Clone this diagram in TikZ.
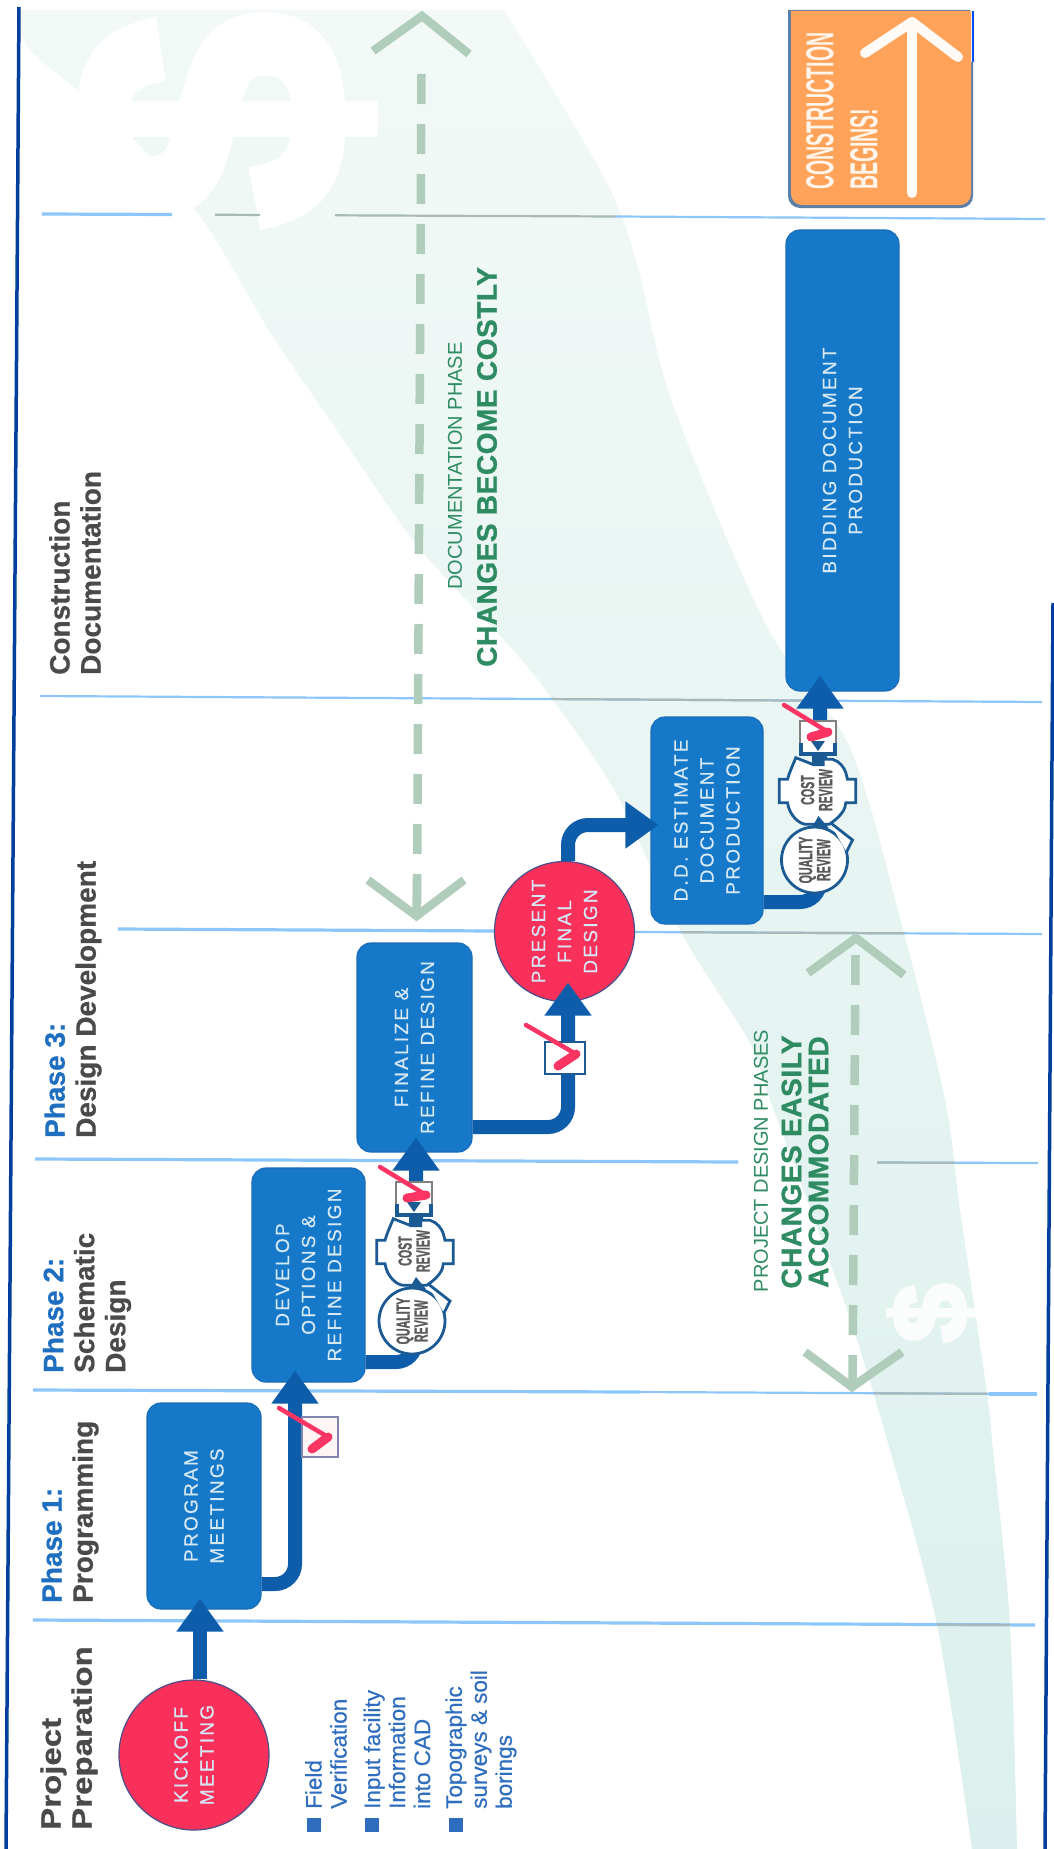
\documentclass[tikz,border=0pt]{standalone}
\usepackage{graphicx}
\usepackage{fontspec}
\setmainfont{Liberation Sans}
\newfontfamily\lsfont[LetterSpace=12,FakeBold=0.5]{Liberation Sans}
\newfontfamily\gfont[LetterSpace=2,BoldFeatures={FakeBold=1}]{Liberation Sans}
\newfontfamily\fatfont[BoldFeatures={FakeBold=4}]{Liberation Sans}
\newfontfamily\hdfont[BoldFeatures={FakeBold=0.6}]{Liberation Sans}
\newfontfamily\btfont[FakeBold=0.5]{Liberation Sans}
\newfontfamily\rvfont[BoldFeatures={FakeBold=1.2}]{Liberation Sans}
\usetikzlibrary{arrows.meta,calc}
\definecolor{navyline}{HTML}{003F9E}
\definecolor{seplight}{HTML}{8CC6FB}
\definecolor{sepgrey}{HTML}{A9B9B8}
\definecolor{boxblue}{HTML}{1578C8}
\definecolor{boxedge}{HTML}{1A6CB8}
\definecolor{boxtext}{HTML}{D5E8F6}
\definecolor{flowblue}{HTML}{0E5DAA}
\definecolor{redfill}{HTML}{F8305A}
\definecolor{rededge}{HTML}{4A4F8C}
\definecolor{checkred}{HTML}{FB3563}
\definecolor{revnavy}{HTML}{1C5A94}
\definecolor{revgrey}{HTML}{5A5A5A}
\definecolor{phaseblue}{HTML}{1E6FC0}
\definecolor{headgrey}{HTML}{4A4A4A}
\definecolor{bulletblue}{HTML}{2F6DBE}
\definecolor{labelgreen}{HTML}{2E8B62}
\definecolor{dashgreen}{HTML}{B0CDBB}
\definecolor{orangefill}{HTML}{FFA35A}
\definecolor{orangeedge}{HTML}{5C7FA8}
\definecolor{bandA}{HTML}{F2F9F6}
\definecolor{bandB}{HTML}{DCE9E6}
\definecolor{bandC}{HTML}{DBF0EE}
\newcommand\cnd[1]{\scalebox{.56}[1]{#1}}
\newcommand\ornd[1]{\scalebox{.5}[1]{#1}}
\newcommand\wdr[1]{\scalebox{1.18}[1]{#1}}
\newcommand\bandpath{plot[smooth,tension=.5] coordinates {(20,10)(30,50)(120,125)(202,219)(269,330)(336,429)(417,545)(513,650)(556,704)(616,793)(681,932)(750,1043)(770,1100)(847,1310)(890,1450)(937,1625)(972,1849)} -- plot[smooth,tension=.5] coordinates {(1017,1849)(1010,1625)(993,1450)(987,1393)(960,1210)(945,1100)(900,918)(849,746)(766,625)(672,402)(638,268)(605,179)(504,10)} -- cycle}
\newcommand\reviewpair[3]{%
  \begin{scope}[shift={(#2,#3)}]
    % quality badge
    \node[qualshape,rotate=90,align=center] (#1q) at (-3,70)
      {\cnd{QUALITY}\\\cnd{REVIEW}};
    \fill[white] (12,32) -- (35,50) -- (29,62) -- cycle;
    \draw[revnavy,line width=2.8pt,line join=miter] (12,32) -- (35,50) -- (29,62);
    % cost badge
    \fill[white,draw=revnavy,line width=2.8pt,line join=miter]
      (-21.7,-32.3) -- (-5,-25.7) -- (1.7,-30.7) -- (15,-30.7)
      .. controls (22,-29) and (27,-22) .. (28.3,-17.3) -- (30,-10.7) -- (38.3,-10.7)
      -- (38.3,12.7) -- (28.3,12.7) .. controls (28,19) and (24,26) .. (11.7,34.3)
      -- (-11.7,34.3) .. controls (-18,34) and (-28,26) .. (-30,12.7)
      -- (-38.3,12.7) -- (-38.3,-10.7) -- (-30,-10.7)
      .. controls (-28,-18) and (-25,-24) .. (-21.7,-32.3) -- cycle;
    \node[costtext] (#1c) at (-1,0) {\cnd{COST}\\\cnd{REVIEW}};
    % arrow shaft showing through the gaps
    \fill[revnavy] (-5,-24) -- (-6,-38) -- (7,-38) -- (7,-24) -- cycle;
    \fill[revnavy] (-6,38) -- (1,26) -- (11,38) -- cycle;
  \end{scope}}
\newcommand\chkmark[3]{%
  \draw[checkred,line width=4.5pt,line join=round,line cap=round] (#1) -- (#2);
  \draw[checkred,line width=9pt,line cap=round] (#2) -- (#3);}
\tikzset{
  procbox/.style={rotate=90,draw=boxedge,line width=1.2pt,fill=boxblue,rounded corners=14pt,
    text=boxtext,align=center,font=\lsfont\fontsize{19}{26}\selectfont,inner sep=0pt},
  redcirc/.style={rotate=90,circle,draw=rededge,line width=1.2pt,fill=redfill,
    text=boxtext,align=center,font=\lsfont\fontsize{19}{26}\selectfont,inner sep=0pt},
  flow/.style={flowblue,line width=14pt,rounded corners=20pt,
    -{Triangle[width=45pt,length=33pt]}},
  header/.style={rotate=90,anchor=west,align=left,inner sep=0pt,text=headgrey,
    font=\hdfont\fontsize{28}{31}\selectfont\bfseries},
  bullet/.style={rectangle,fill=bulletblue,minimum size=14pt,inner sep=0pt},
  bullettext/.style={rotate=90,anchor=west,align=left,inner sep=0pt,text=bulletblue,
    font=\btfont\fontsize{22.5}{25}\selectfont},
  smallgreen/.style={rotate=90,text=labelgreen,inner sep=0pt,font=\fontsize{20}{24}\selectfont},
  biggreen/.style={rotate=90,text=labelgreen,align=center,inner sep=0pt,
    font=\gfont\fontsize{28}{27}\selectfont\bfseries},
  dashes/.style={dashgreen,line width=8.5pt,dash pattern=on 30pt off 20pt},
  chev/.style={dashgreen,line width=8.5pt,line join=miter},
  sep/.style={seplight,line width=3.2pt},
  septhin/.style={seplight,line width=2.2pt},
  tickbox/.style={rectangle,fill=white,draw=#1,line width=1.2pt,inner sep=0pt},
  qualshape/.style={circle,fill=white,draw=revnavy,line width=2.8pt,minimum size=66pt,inner sep=0pt,
    text=revgrey,font=\rvfont\fontsize{19}{18}\selectfont\bfseries},
  costtext/.style={rotate=90,align=center,inner sep=0pt,text=revgrey,
    font=\rvfont\fontsize{19}{18}\selectfont\bfseries},
}
\begin{document}
\begin{tikzpicture}[x=1pt,y=-1pt]
\useasboundingbox (0,0) rectangle (1054,1849);
\fill[white] (0,0) rectangle (1054,1849);
\begin{scope}
\clip (0,0) rectangle (1054,1849);
% the cost band
\shade[top color=bandA,middle color=bandB,bottom color=bandC] \bandpath;
\node[rotate=90,text=white,inner sep=0pt,font=\fatfont\fontsize{380}{380}\selectfont\bfseries] (bigdollar) at (215,120) {\$};
\node[rotate=90,text=white!90!bandB,inner sep=0pt,font=\fatfont\fontsize{105}{105}\selectfont\bfseries] (smalldollar) at (931,1313) {\$};
\end{scope}
% separators
\draw[sep] (33,1620) -- (1035,1625);
\draw[sep] (33,1390) -- (640,1392);
\draw[septhin] (640,1392) -- (1037,1394);
\draw[sep] (989,1394) -- (1037,1394);
\draw[sep] (35,1159) -- (738,1162);
\draw[septhin] (877,1162.5) -- (1038,1163);
\draw[sep] (118,929) -- (495,931);
\draw[septhin] (634,932) -- (1042,934);
\draw[septhin] (40,696) -- (1042,702);
\draw[sep] (42,214) -- (172,214.5);
\draw[septhin] (615,216.5) -- (1045,219);
\begin{scope}
\clip \bandpath;
\draw[sepgrey,line width=2.2pt] (33,1620) -- (1035,1625);
\draw[sepgrey,line width=2.2pt] (33,1390) -- (1037,1394);
\draw[sepgrey,line width=2.2pt] (877,1162.5) -- (1038,1163);
\draw[sepgrey,line width=2.2pt] (634,932) -- (1042,934);
\draw[sepgrey,line width=2.2pt] (40,696) -- (1042,702);
\draw[sepgrey,line width=2.2pt] (215,214.7) -- (260,215);
\draw[sepgrey,line width=2.2pt] (335,215.3) -- (615,216.5);
\end{scope}
% margin rules
\draw[navyline,line width=3.5pt] (19,7) -- (6,1849);
\draw[navyline,line width=3.5pt] (1053,603) -- (1045,1849);
\draw[blue!70!cyan,line width=1.5pt] (973,11) -- (973,62);
% dashed double arrows
\coordinate (uptop) at (422,16);
\coordinate (upbot) at (416.5,916);
\coordinate (lowtop) at (856,938);
\coordinate (lowbot) at (852,1387);
\draw[dashes] (421.5,74) -- (417,904);
\draw[chev] (373,51) -- (uptop) -- (469,54);
\draw[chev] (368,880) -- (upbot) -- (464,880);
\draw[dashgreen,line width=8.5pt] (417,878) -- (upbot);
\draw[dashes] (855.5,955) -- (852.5,1385);
\draw[chev] (808,973) -- (lowtop) -- (904,975);
\draw[chev] (805,1352) -- (lowbot) -- (902,1352);
% headers
\node[header] (hprep) at (69,1830) {\wdr{Project}\\\wdr{Preparation}};
\node[header] (hone) at (70,1603) {{\color{phaseblue}Phase 1:}\\Programming};
\node[header] (htwo) at (87,1373) {{\color{phaseblue}Phase 2:}\\Schematic\\Design};
\node[header] (hthree) at (73,1138) {{\color{phaseblue}Phase 3:}\\Design Development};
\node[header] (hcon) at (75,675) {Construction\\Documentation};
% bullets
\node[bullet] (b1) at (314,1825) {};
\node[bullet] (b2) at (372,1825) {};
\node[bullet] (b3) at (456,1825) {};
\node[bullettext] (t1) at (326,1809) {Field\\Verification};
\node[bullettext] (t2) at (397,1809) {Input facility\\Information\\into CAD};
\node[bullettext] (t3) at (481,1809) {Topographic\\surveys \& soil\\borings};
% green labels
\node[smallgreen] (ldoc) at (455,466) {DOCUMENTATION PHASE};
\node[biggreen] (lcost) at (487,467) {CHANGES BECOME COSTLY};
\node[smallgreen] (lproj) at (761,1161) {PROJECT DESIGN PHASES};
\node[biggreen] (leasy) at (805,1162) {CHANGES EASILY\\ACCOMMODATED};
% process nodes
\node[redcirc,minimum size=150pt] (kick) at (194,1755) {KICKOFF\\MEETING};
\node[procbox,minimum width=206pt,minimum height=114pt] (prog) at (204,1506) {PROGRAM\\MEETINGS};
\node[procbox,minimum width=214pt,minimum height=113pt] (dev) at (308.5,1275) {DEVELOP\\OPTIONS \&\\REFINE DESIGN};
\node[procbox,minimum width=209pt,minimum height=115pt] (fin) at (414.5,1047.5) {FINALIZE \&\\REFINE DESIGN};
\node[redcirc,minimum size=140pt] (pres) at (564.5,931.5) {PRESENT\\FINAL\\DESIGN};
\node[procbox,minimum width=207pt,minimum height=112pt] (dd) at (707,820.5) {D.D. ESTIMATE\\DOCUMENT\\PRODUCTION};
\node[procbox,minimum width=461pt,minimum height=113pt] (bid) at (842.5,460.5) {BIDDING DOCUMENT\\PRODUCTION};
% orange box
\fill[orangeedge] (788,10) [rounded corners=12pt] -- (788,208) -- (973,208) [sharp corners] -- (973,62) -- (970,62) -- (970,10) -- cycle;
\fill[orangefill] (791,11) [rounded corners=11pt] -- (791,205) -- (971,205) [sharp corners] -- (971,11) -- cycle;
\node[rotate=90,anchor=west,align=left,inner sep=0pt,text=white!92!orange,font=\fontsize{39}{44}\selectfont\bfseries] (cons) at (842,190) {\ornd{CONSTRUCTION}\\\ornd{BEGINS!}};
\coordinate (cbtm) at (912,193);
\coordinate (ctip) at (912,22);
\draw[white!96!orange,line width=10pt,line cap=round] (cbtm) -- (ctip);
\draw[white!96!orange,line width=10pt,line cap=round,line join=round] (865,53) -- (ctip) -- (958,57);
% connectors
\draw[flow,rounded corners=0pt] ([xshift=6pt]kick.east) -- ([xshift=-4pt,yshift=11pt]prog.west);
\draw[flow] ([yshift=-78pt]prog.south) -| ([xshift=-13.5pt,yshift=12pt]dev.west);
\draw[flow] ([yshift=-87pt]dev.south) -| ([xshift=1.5pt,yshift=15pt]fin.west);
\draw[flow] ([yshift=-79.5pt]fin.south) -| ([xshift=3.5pt,yshift=19.5pt]pres.west);
\draw[flow] ([xshift=3.5pt]pres.east) |- ([xshift=8pt,yshift=-4.5pt]dd.north);
\draw[flow] ([yshift=-81.5pt]dd.south) -| ([xshift=-22.5pt,yshift=16pt]bid.west);
% check boxes
\node[tickbox=rededge!70,fill=red!4,minimum width=36pt,minimum height=40pt] (ck1) at (320,1437) {};
\chkmark{279,1408}{328,1437}{312,1449}
\node[tickbox=revnavy,minimum width=40pt,minimum height=32pt] (ck3) at (565,1058) {};
\chkmark{526,1025}{576,1054}{558,1066}
% reviews
\node[tickbox=gray,minimum width=36pt,minimum height=33pt] (ck2) at (414,1198.5) {};
\draw[revnavy,line width=3.5pt] (397,1204) -- (397,1215) -- (431,1215) -- (431,1204);
\fill[revnavy] (407,1202) -- (421,1202) -- (414,1212) -- cycle;
\chkmark{380,1167}{426,1195}{407,1198}
\reviewpair{a}{415}{1251}
\node[tickbox=gray,minimum width=36pt,minimum height=33pt] (ck4) at (818,737.5) {};
\draw[revnavy,line width=3.5pt] (801,743) -- (801,754) -- (835,754) -- (835,743);
\fill[revnavy] (811,741) -- (825,741) -- (818,751) -- cycle;
\chkmark{784,705}{828,732}{811,737}
\reviewpair{b}{817.5}{790}
\end{tikzpicture}
\end{document}
